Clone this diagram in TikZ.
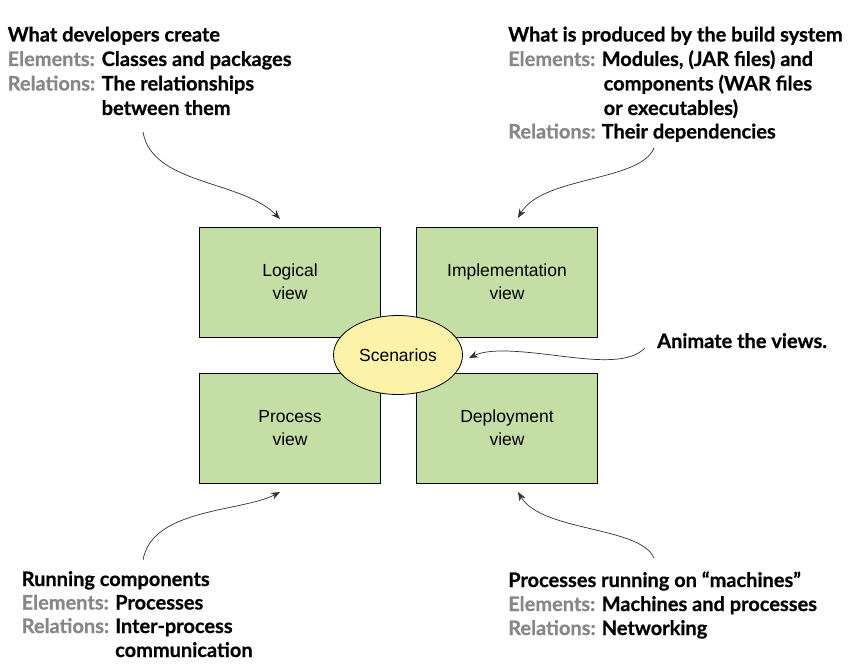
\documentclass[tikz,border=0pt]{standalone}
\usepackage{fontspec}
\setmainfont{Liberation Sans}
\newfontfamily\annot{Lato}[BoldFeatures={FakeBold=0.6}]
\usetikzlibrary{shapes.geometric,arrows.meta}
\definecolor{viewgreen}{RGB}{197,222,165}
\definecolor{scenyellow}{RGB}{252,243,168}
\definecolor{labgray}{RGB}{135,135,135}
\definecolor{arrowgray}{RGB}{50,50,50}
\begin{document}
\begin{tikzpicture}[x=1pt,y=-1pt,
  view/.style={draw=black, line width=0.8pt, fill=viewgreen, minimum width=181pt, minimum height=110pt, align=center, inner sep=0pt, font=\fontsize{17.5}{23}\selectfont},
  scen/.style={ellipse, draw=black, line width=0.8pt, fill=scenyellow, minimum width=129pt, minimum height=79pt, inner sep=0pt, font=\fontsize{17.5}{21}\selectfont},
  head/.style={anchor=base west, inner sep=0pt, font=\annot\bfseries\fontsize{20}{24}\selectfont, text=black},
  lab/.style={head, text=labgray},
  callout/.style={draw=arrowgray, line width=0.7pt, -{Stealth[length=9pt,width=7pt]}}
]
\useasboundingbox (0,0) rectangle (858,663);
\fill[white] (0,0) rectangle (858,663);

% views
\node[view] (logical) at (290,282) {Logical\\view};
\node[view] (impl) at (507,282) {Implementation\\view};
\node[view] (process) at (290,428) {Process\\view};
\node[view] (deploy) at (507,428) {Deployment\\view};
\node[scen] (scen) at (398,355) {Scenarios};

% top-left annotation
\node[head] (t1) at (7.5,41.5) {What developers create};
\node[lab] (t1e) at (7.5,66) {Elements:};
\node[head] (t1eb) at (101.5,66) {Classes and packages};
\node[lab] (t1r) at (7.5,90.5) {Relations:};
\node[head] (t1rb) at (101.5,90.5) {The relationships};
\node[head] (t1rb2) at (101.5,115) {between them};

% top-right annotation
\node[head] (t2) at (508,41.5) {What is produced by the build system};
\node[lab] (t2e) at (508,66) {Elements:};
\node[head] (t2eb) at (601.5,66) {Modules, (JAR files) and};
\node[head] (t2eb2) at (603.5,90.5) {components (WAR files};
\node[head] (t2eb3) at (603.5,115) {or executables)};
\node[lab] (t2r) at (508,138.5) {Relations:};
\node[head] (t2rb) at (601.5,138.5) {Their dependencies};

% animate
\node[head] (t3) at (657,348) {Animate the views.};

% bottom-left annotation
\node[head] (t4) at (21.5,586) {Running components};
\node[lab] (t4e) at (21.5,609.5) {Elements:};
\node[head] (t4eb) at (115,609.5) {Processes};
\node[lab] (t4r) at (21.5,633) {Relations:};
\node[head] (t4rb) at (115,633) {Inter-process};
\node[head] (t4rb2) at (115,657) {communication};

% bottom-right annotation
\node[head] (t5) at (508,587) {Processes running on “machines”};
\node[lab] (t5e) at (508,611) {Elements:};
\node[head] (t5eb) at (601.5,611) {Machines and processes};
\node[lab] (t5r) at (508,635) {Relations:};
\node[head] (t5rb) at (601.5,635) {Networking};

% callout arrows
\coordinate (a1s) at (143,132);
\coordinate (a1e) at (280,219);
\draw[callout] (a1s) .. controls (152,185) and (242,180) .. (a1e);
\coordinate (a2s) at (654,148);
\coordinate (a2e) at (518,218);
\draw[callout] (a2s) .. controls (640,182) and (542,176) .. (a2e);
\coordinate (a3s) at (645,348);
\coordinate (a3e) at (469,358);
\coordinate (a3m) at (560,356);
\draw[callout] (a3s) .. controls (630,363) and (600,361) .. (a3m) .. controls (520,351) and (490,348) .. (a3e);
\coordinate (a4s) at (143,560);
\coordinate (a4e) at (280,492);
\draw[callout] (a4s) .. controls (152,508) and (242,512) .. (a4e);
\coordinate (a5s) at (654,558);
\coordinate (a5e) at (518,492);
\draw[callout] (a5s) .. controls (640,526) and (542,532) .. (a5e);
\end{tikzpicture}
\end{document}
